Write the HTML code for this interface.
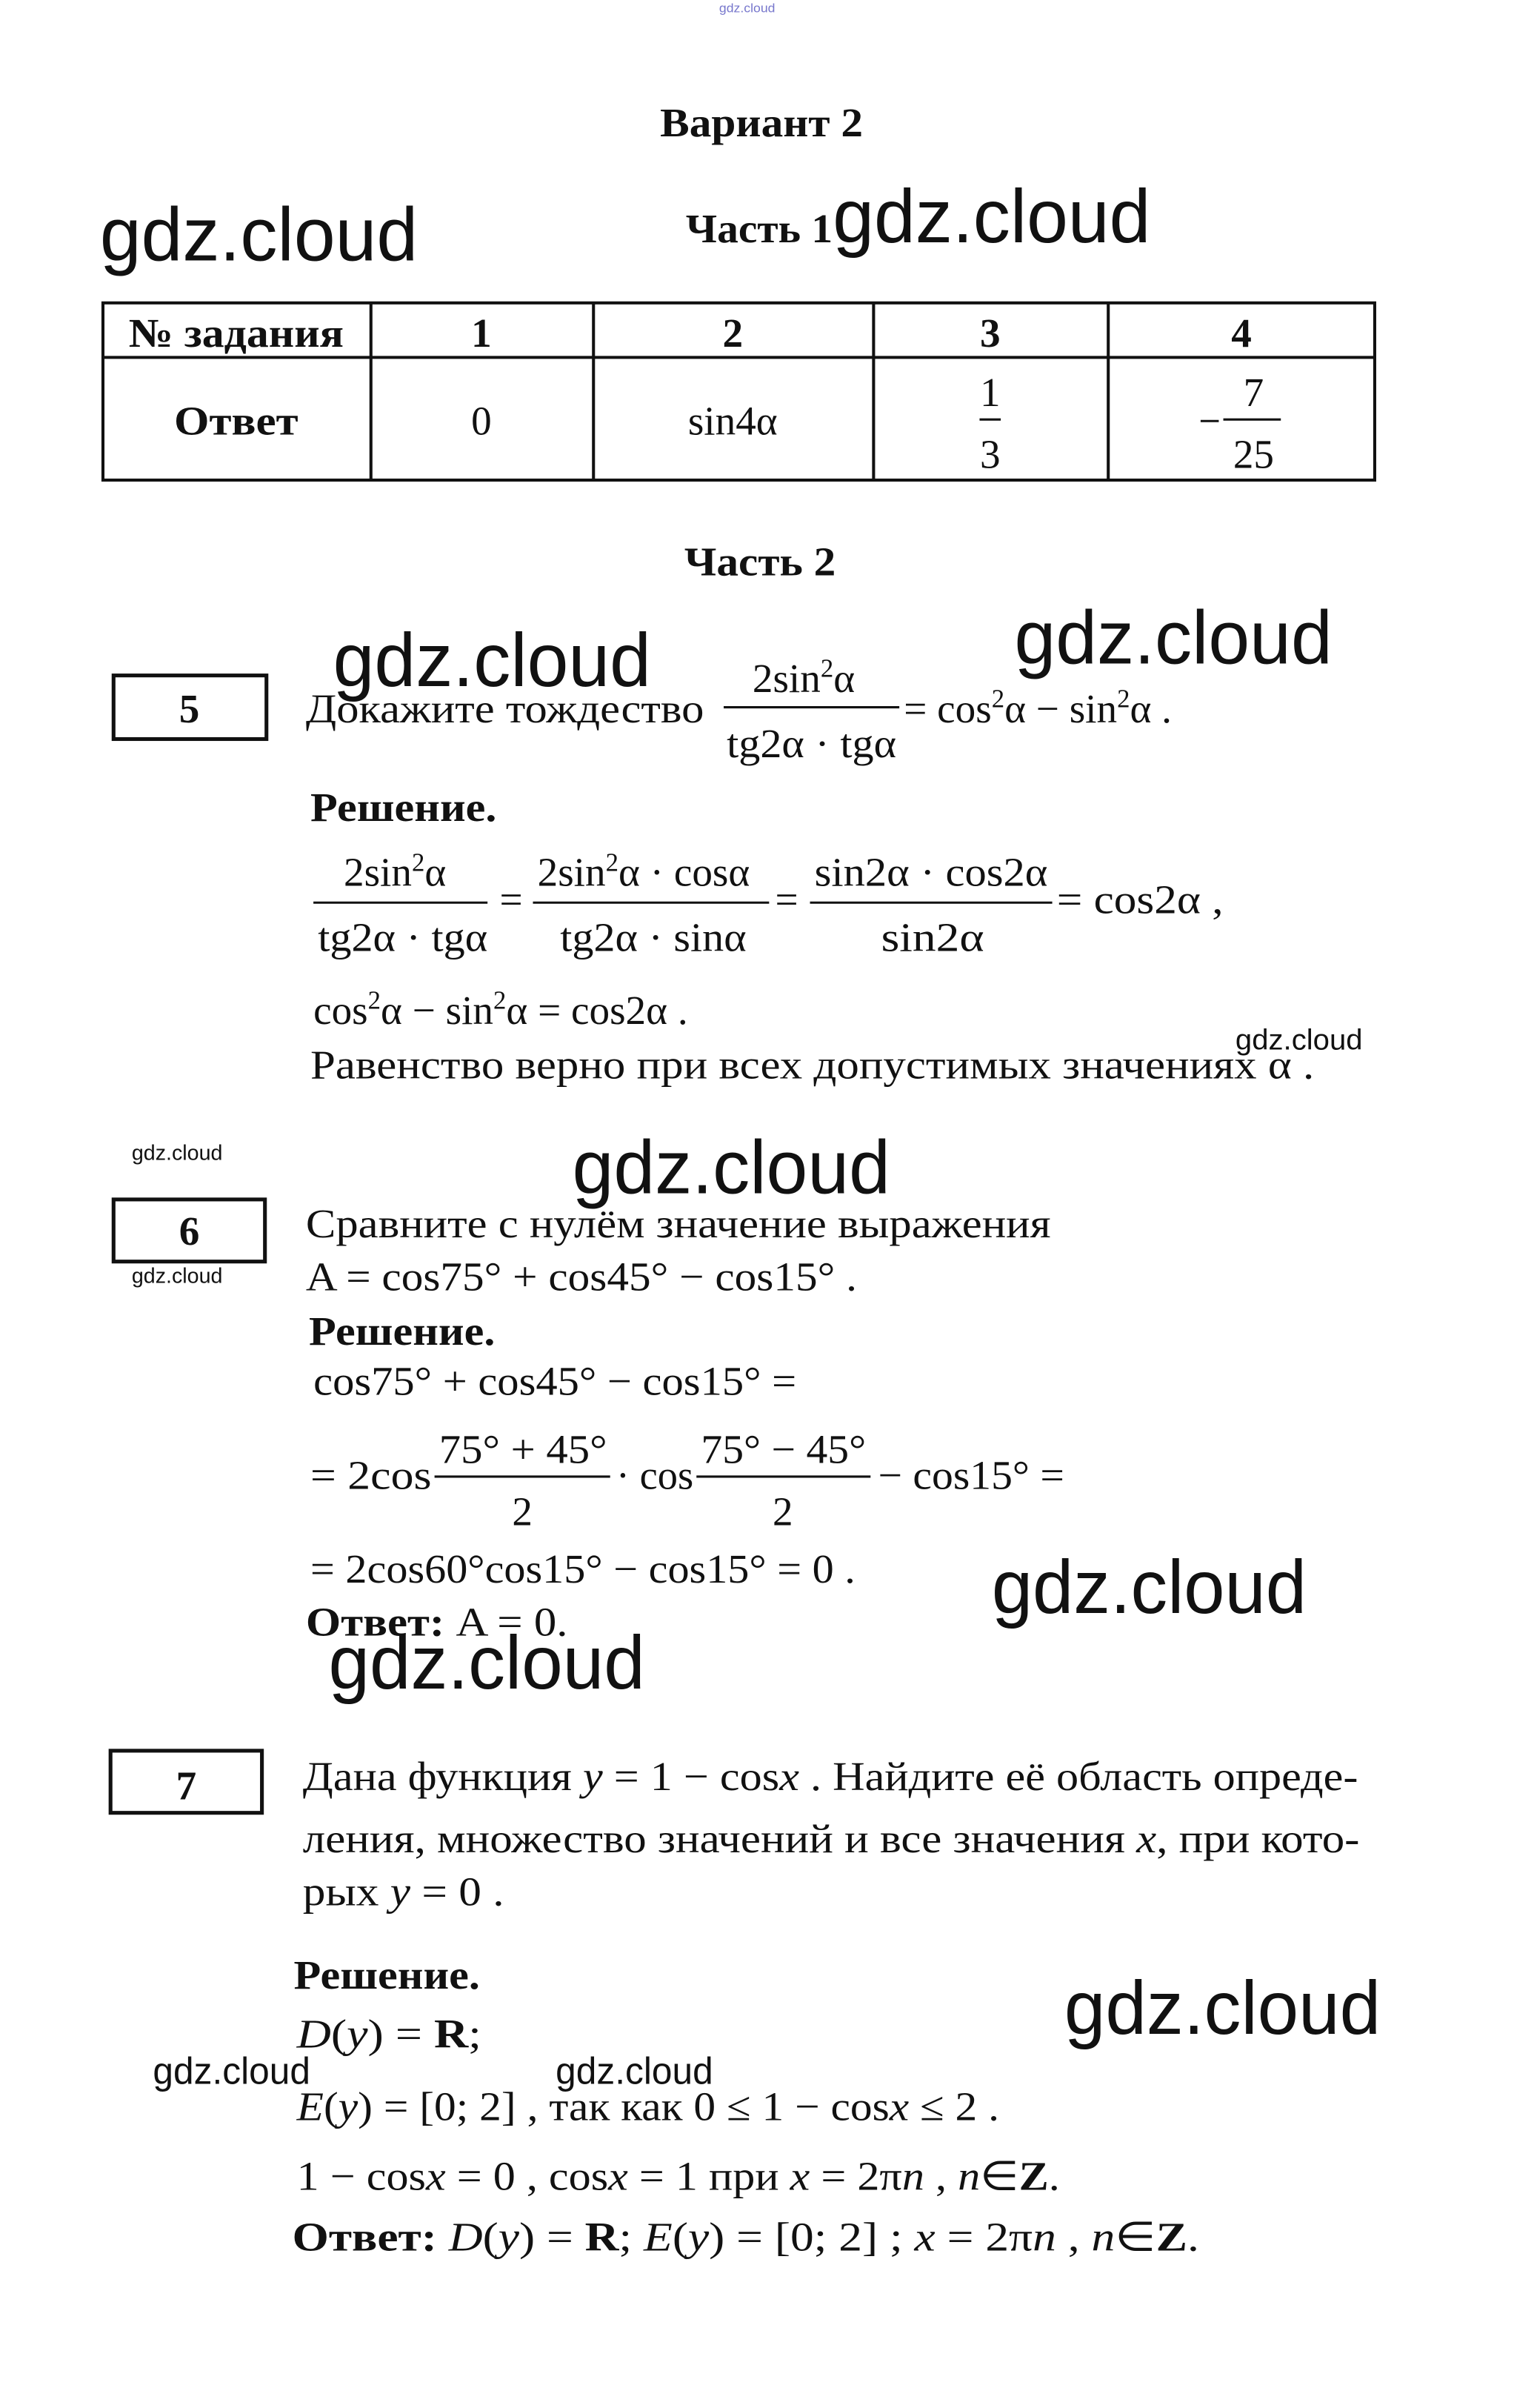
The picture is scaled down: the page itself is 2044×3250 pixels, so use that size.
<!DOCTYPE html>
<html><head><meta charset="utf-8"><style>
html,body{margin:0;padding:0;background:#fff;}
svg{display:block;}
.t{font-family:"Liberation Serif",serif;font-size:27px;fill:#111;}
.b{font-weight:bold;}
.w{font-family:"Liberation Sans",sans-serif;fill:#111;}
.i{font-style:italic;}
</style></head><body>
<svg width="2044" height="3250" viewBox="0 0 1000 1590" preserveAspectRatio="none" xmlns="http://www.w3.org/2000/svg">
<rect width="1000" height="1590" fill="#fff"/>
<text x="475" y="8" class="w" font-size="8" fill="#66c" style="fill:#77c" textLength="37" lengthAdjust="spacingAndGlyphs">gdz.cloud</text>

<text x="436" y="90" class="t b" textLength="134" lengthAdjust="spacingAndGlyphs">Вариант 2</text>
<text x="66" y="172" class="w" font-size="50" textLength="210" lengthAdjust="spacingAndGlyphs">gdz.cloud</text>
<text x="453" y="160" class="t b" textLength="97" lengthAdjust="spacingAndGlyphs">Часть 1</text>
<text x="550" y="160" class="w" font-size="50" textLength="210" lengthAdjust="spacingAndGlyphs">gdz.cloud</text>

<g stroke="#111" stroke-width="2" fill="none">
<rect x="68" y="200" width="840" height="117"/>
<line x1="68" y1="236" x2="908" y2="236"/>
<line x1="245" y1="200" x2="245" y2="317"/>
<line x1="392" y1="200" x2="392" y2="317"/>
<line x1="577" y1="200" x2="577" y2="317"/>
<line x1="732" y1="200" x2="732" y2="317"/>
<line x1="647" y1="277" x2="661" y2="277" stroke-width="1.5"/>
<line x1="808" y1="277" x2="846" y2="277" stroke-width="1.5"/>
<line x1="793" y1="278" x2="805" y2="278" stroke-width="1.5"/>
</g>
<g class="t" text-anchor="middle">
<text x="156" y="229" class="t b" textLength="142" lengthAdjust="spacingAndGlyphs">№ задания</text>
<text x="318" y="229" class="t b">1</text>
<text x="484" y="229" class="t b">2</text>
<text x="654" y="229" class="t b">3</text>
<text x="820" y="229" class="t b">4</text>
<text x="156" y="287" class="t b" textLength="82" lengthAdjust="spacingAndGlyphs">Ответ</text>
<text x="318" y="287" class="t">0</text>
<text x="484" y="287" class="t">sin4α</text>
<text x="654" y="268" class="t">1</text>
<text x="654" y="309" class="t">3</text>
<text x="828" y="268" class="t">7</text>
<text x="828" y="309" class="t">25</text>
</g>

<text x="452" y="380" class="t b" textLength="100" lengthAdjust="spacingAndGlyphs">Часть 2</text>

<!-- 5 -->
<rect x="75" y="446" width="101" height="42" fill="none" stroke="#111" stroke-width="2.5"/>
<text x="125" y="477" class="t b" text-anchor="middle">5</text>
<text x="202" y="477" class="t" textLength="263" lengthAdjust="spacingAndGlyphs">Докажите тождество</text>
<text x="497" y="457" class="t">2sin<tspan dy="-10" font-size="17">2</tspan><tspan dy="10">α</tspan></text>
<line x1="478" y1="467" x2="594" y2="467" stroke="#111" stroke-width="1.5"/>
<text x="480" y="500" class="t" textLength="112" lengthAdjust="spacingAndGlyphs">tg2α · tgα</text>
<text x="597" y="477" class="t">= cos<tspan dy="-10" font-size="17">2</tspan><tspan dy="10">α − sin</tspan><tspan dy="-10" font-size="17">2</tspan><tspan dy="10">α .</tspan></text>
<text x="220" y="453" class="w" font-size="50" textLength="210" lengthAdjust="spacingAndGlyphs">gdz.cloud</text>
<text x="670" y="438" class="w" font-size="50" textLength="210" lengthAdjust="spacingAndGlyphs">gdz.cloud</text>

<text x="205" y="542" class="t b" textLength="123" lengthAdjust="spacingAndGlyphs">Решение.</text>
<g stroke="#111" stroke-width="1.5">
<line x1="207" y1="596" x2="322" y2="596"/>
<line x1="352" y1="596" x2="508" y2="596"/>
<line x1="535" y1="596" x2="695" y2="596"/>
</g>
<text x="227" y="585" class="t">2sin<tspan dy="-10" font-size="17">2</tspan><tspan dy="10">α</tspan></text>
<text x="210" y="628" class="t" textLength="112" lengthAdjust="spacingAndGlyphs">tg2α · tgα</text>
<text x="330" y="603" class="t">=</text>
<text x="355" y="585" class="t">2sin<tspan dy="-10" font-size="17">2</tspan><tspan dy="10">α · cosα</tspan></text>
<text x="370" y="628" class="t" textLength="123" lengthAdjust="spacingAndGlyphs">tg2α · sinα</text>
<text x="512" y="603" class="t">=</text>
<text x="538" y="585" class="t" textLength="154" lengthAdjust="spacingAndGlyphs">sin2α · cos2α</text>
<text x="582" y="628" class="t" textLength="68" lengthAdjust="spacingAndGlyphs">sin2α</text>
<text x="698" y="603" class="t" textLength="110" lengthAdjust="spacingAndGlyphs">= cos2α ,</text>
<text x="207" y="676" class="t">cos<tspan dy="-10" font-size="17">2</tspan><tspan dy="10">α − sin</tspan><tspan dy="-10" font-size="17">2</tspan><tspan dy="10">α = cos2α .</tspan></text>
<text x="205" y="712" class="t" textLength="663" lengthAdjust="spacingAndGlyphs">Равенство верно при всех допустимых значениях  α .</text>
<text x="816" y="693" class="w" font-size="19" textLength="84" lengthAdjust="spacingAndGlyphs">gdz.cloud</text>

<!-- 6 -->
<text x="87" y="766" class="w" font-size="14" textLength="60" lengthAdjust="spacingAndGlyphs">gdz.cloud</text>
<text x="378" y="788" class="w" font-size="50" textLength="210" lengthAdjust="spacingAndGlyphs">gdz.cloud</text>
<rect x="75" y="792" width="100" height="41" fill="none" stroke="#111" stroke-width="2.5"/>
<text x="125" y="822" class="t b" text-anchor="middle">6</text>
<text x="87" y="847" class="w" font-size="14" textLength="60" lengthAdjust="spacingAndGlyphs">gdz.cloud</text>
<text x="202" y="817" class="t" textLength="492" lengthAdjust="spacingAndGlyphs">Сравните с нулём значение выражения</text>
<text x="202" y="852" class="t" textLength="364" lengthAdjust="spacingAndGlyphs">A = cos75° + cos45° − cos15° .</text>
<text x="204" y="888" class="t b" textLength="123" lengthAdjust="spacingAndGlyphs">Решение.</text>
<text x="207" y="921" class="t" textLength="319" lengthAdjust="spacingAndGlyphs">cos75° + cos45° − cos15° =</text>
<text x="205" y="983" class="t" textLength="80" lengthAdjust="spacingAndGlyphs">= 2cos</text>
<text x="290" y="966" class="t" textLength="111" lengthAdjust="spacingAndGlyphs">75° + 45°</text>
<line x1="287" y1="975" x2="403" y2="975" stroke="#111" stroke-width="1.5"/>
<text x="345" y="1007" class="t" text-anchor="middle">2</text>
<text x="407" y="983" class="t" textLength="51" lengthAdjust="spacingAndGlyphs">· cos</text>
<text x="463" y="966" class="t" textLength="109" lengthAdjust="spacingAndGlyphs">75° − 45°</text>
<line x1="460" y1="975" x2="575" y2="975" stroke="#111" stroke-width="1.5"/>
<text x="517" y="1007" class="t" text-anchor="middle">2</text>
<text x="580" y="983" class="t" textLength="123" lengthAdjust="spacingAndGlyphs">− cos15° =</text>
<text x="205" y="1045" class="t" textLength="360" lengthAdjust="spacingAndGlyphs">= 2cos60°cos15° − cos15° = 0 .</text>
<text x="202" y="1080" class="t" textLength="173" lengthAdjust="spacingAndGlyphs"><tspan font-weight="bold">Ответ:</tspan> A = 0.</text>
<text x="655" y="1065" class="w" font-size="50" textLength="208" lengthAdjust="spacingAndGlyphs">gdz.cloud</text>
<text x="217" y="1115" class="w" font-size="50" textLength="209" lengthAdjust="spacingAndGlyphs">gdz.cloud</text>

<!-- 7 -->
<rect x="73" y="1156" width="100" height="41" fill="none" stroke="#111" stroke-width="2.5"/>
<text x="123" y="1188" class="t b" text-anchor="middle">7</text>
<text x="200" y="1182" class="t" textLength="697" lengthAdjust="spacingAndGlyphs">Дана функция  <tspan font-style="italic">y</tspan> = 1 − cos<tspan font-style="italic">x</tspan> . Найдите её область опреде-</text>
<text x="200" y="1223" class="t" textLength="698" lengthAdjust="spacingAndGlyphs">ления, множество значений и все значения <tspan font-style="italic">x</tspan>, при кото-</text>
<text x="200" y="1258" class="t" textLength="133" lengthAdjust="spacingAndGlyphs">рых  <tspan font-style="italic">y</tspan> = 0 .</text>
<text x="194" y="1313" class="t b" textLength="123" lengthAdjust="spacingAndGlyphs">Решение.</text>
<text x="196" y="1352" class="t" textLength="122" lengthAdjust="spacingAndGlyphs"><tspan font-style="italic">D</tspan>(<tspan font-style="italic">y</tspan>) = <tspan font-weight="bold">R</tspan>;</text>
<text x="703" y="1343" class="w" font-size="50" textLength="209" lengthAdjust="spacingAndGlyphs">gdz.cloud</text>
<text x="101" y="1376" class="w" font-size="25" textLength="104" lengthAdjust="spacingAndGlyphs">gdz.cloud</text>
<text x="367" y="1376" class="w" font-size="25" textLength="104" lengthAdjust="spacingAndGlyphs">gdz.cloud</text>
<text x="196" y="1400" class="t" textLength="464" lengthAdjust="spacingAndGlyphs"><tspan font-style="italic">E</tspan>(<tspan font-style="italic">y</tspan>) = [0; 2] , так как  0 ≤ 1 − cos<tspan font-style="italic">x</tspan> ≤ 2 .</text>
<text x="196" y="1446" class="t" textLength="504" lengthAdjust="spacingAndGlyphs">1 − cos<tspan font-style="italic">x</tspan> = 0 ,  cos<tspan font-style="italic">x</tspan> = 1  при  <tspan font-style="italic">x</tspan> = 2π<tspan font-style="italic">n</tspan> ,  <tspan font-style="italic">n</tspan>∈<tspan font-weight="bold">Z</tspan>.</text>
<text x="193" y="1486" class="t" textLength="599" lengthAdjust="spacingAndGlyphs"><tspan font-weight="bold">Ответ:</tspan>  <tspan font-style="italic">D</tspan>(<tspan font-style="italic">y</tspan>) = <tspan font-weight="bold">R</tspan>;  <tspan font-style="italic">E</tspan>(<tspan font-style="italic">y</tspan>) = [0; 2] ;  <tspan font-style="italic">x</tspan> = 2π<tspan font-style="italic">n</tspan> ,  <tspan font-style="italic">n</tspan>∈<tspan font-weight="bold">Z</tspan>.</text>
</svg>
</body></html>
